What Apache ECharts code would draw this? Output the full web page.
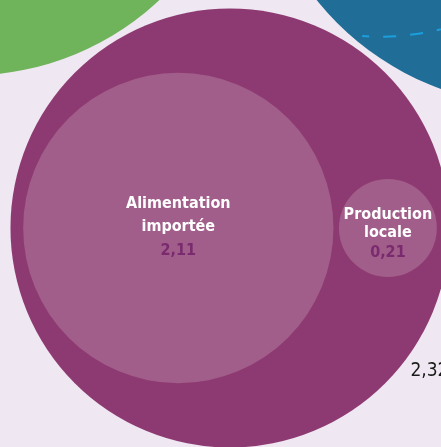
<!DOCTYPE html>
<html><head><meta charset="utf-8">
<style>html,body{margin:0;padding:0;background:#efe7f2;}#c{width:441px;height:447px;}</style>
<script src="https://cdn.jsdelivr.net/npm/echarts@6/dist/echarts.min.js"></script>
</head><body><div id="c"></div>
<script>
// ---------- DATA ----------
const parentName = 'Alimentation';
const childNames = ['Alimentation\nimportée', 'Production\nlocale'];
const childValues = [2.11, 0.21];
const parentTotalLabel = '2,32';
// neighbouring top-level circles, only partly visible (values estimated from their size)
const neighbourNames = ['Groupe vert', 'Groupe bleu'];
const neighbourValues = [6.8, 7.1];

// ---------- STYLE / LAYOUT SETTINGS ----------
const PX = 106.8;                 // pixels per unit of radius (r = sqrt(value))
const innerGap = 5.5 / PX;        // gap between children
const parentPad = 12.7 / PX;      // gap between children and parent edge
const siblingGap = 6 / PX;        // gap between top-level circles
const neighbourAngles = [-121.2, -52.8]; // direction from the main circle (deg, screen coords)
const colors = {
  parent: '#8e3a72', child: '#a25e8a', value: '#7a2a6e',
  neighbours: ['#6fb45a', '#206d97'], dash: '#1c9fdd', total: '#1a1a1a'
};
const fontFam = '"DejaVu Sans Condensed", "DejaVu Sans", sans-serif';

// ---------- LAYOUT (computed from the values) ----------
const fmt = v => v.toFixed(2).replace('.', ',');
const nodes = [];
const childR = childValues.map(v => Math.sqrt(v));
const span = 2 * childR[0] + innerGap + 2 * childR[1];
const R = span / 2 + parentPad;
const P = { x: 0, y: 0, r: R, kind: 'parent' };
neighbourValues.forEach((v, i) => {
  const r = Math.sqrt(v), d = R + siblingGap + r, a = neighbourAngles[i] * Math.PI / 180;
  nodes.push({ x: P.x + d * Math.cos(a), y: P.y + d * Math.sin(a), r, kind: 'neighbour', i, name: neighbourNames[i] });
});
nodes.push(P);
let cursor = P.x - span / 2;
childValues.forEach((v, i) => {
  const r = childR[i];
  nodes.push({ x: cursor + r, y: P.y, r, kind: 'child', i, name: childNames[i], value: v });
  cursor += 2 * r + innerGap;
});

// visible window (axis extents, in layout units)
const view = { xMin: -230 / PX, xMax: 211 / PX, yMin: -228 / PX, yMax: 219 / PX };
// decorative dashed arc inside the blue circle (relative to its centre)
const dashArc = { dx: -159 / PX, dy: -44 / PX, r: 259 / PX, a0: 93.8, a1: 60 };

const chart = echarts.init(document.getElementById('c'));
chart.setOption({
  backgroundColor: '#efe7f2',
  animation: false,
  grid: { left: 0, right: 0, top: 0, bottom: 0 },
  xAxis: { type: 'value', min: view.xMin, max: view.xMax, show: false },
  yAxis: { type: 'value', min: view.yMin, max: view.yMax, inverse: true, show: false },
  series: [{
    type: 'custom',
    coordinateSystem: 'cartesian2d',
    data: nodes.map(n => [n.x, n.y, n.r]),
    renderItem(params, api) {
      const n = nodes[params.dataIndex];
      const c = api.coord([n.x, n.y]);
      const rp = api.size([n.r, n.r])[0];
      const children = [];
      if (n.kind === 'neighbour') {
        children.push({ type: 'circle', shape: { cx: c[0], cy: c[1], r: rp }, style: { fill: colors.neighbours[n.i] } });
        if (n.i === 1) {
          const dc = api.coord([n.x + dashArc.dx, n.y + dashArc.dy]);
          children.push({
            type: 'arc',
            shape: { cx: dc[0], cy: dc[1], r: api.size([dashArc.r, dashArc.r])[0],
              startAngle: dashArc.a0 * Math.PI / 180, endAngle: dashArc.a1 * Math.PI / 180, clockwise: false },
            style: { fill: null, stroke: colors.dash, lineWidth: 2, lineDash: [13, 14], lineDashOffset: 6 }
          });
        }
      } else if (n.kind === 'parent') {
        children.push({ type: 'circle', shape: { cx: c[0], cy: c[1], r: rp }, style: { fill: colors.parent } });
        const a = 38.5 * Math.PI / 180, d = rp + 11;
        children.push({ type: 'text', style: {
          text: parentTotalLabel, x: c[0] + d * Math.cos(a), y: c[1] + d * Math.sin(a),
          align: 'left', verticalAlign: 'middle', fill: colors.total,
          font: '19px ' + fontFam } });
      } else {
        children.push({ type: 'circle', shape: { cx: c[0], cy: c[1], r: rp }, style: { fill: colors.child } });
        const big = n.i === 0;
        children.push({ type: 'text', style: {
          text: '{n|' + n.name.split('\n').join('}\n{n|') + '}\n{v|' + fmt(n.value) + '}',
          x: c[0], y: c[1] + (big ? 0 : 7), align: 'center', verticalAlign: 'middle',
          rich: {
            n: { fill: '#ffffff', fontFamily: fontFam, fontWeight: 'bold', fontSize: 16, lineHeight: big ? 23 : 18, align: 'center' },
            v: { fill: colors.value, fontFamily: fontFam, fontWeight: 'bold', fontSize: 16, lineHeight: big ? 26 : 22, align: 'center' }
          } } });
      }
      return { type: 'group', children };
    }
  }]
});
</script></body></html>
